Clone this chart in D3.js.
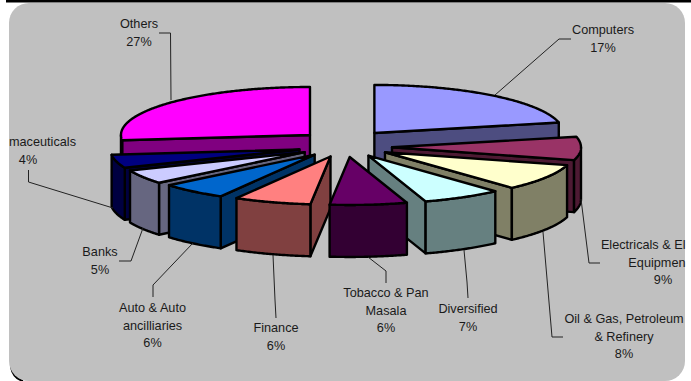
<!DOCTYPE html>
<html><head><meta charset="utf-8">
<script src="https://d3js.org/d3.v7.min.js"></script>
<style>html,body{margin:0;padding:0;background:#fff}svg{display:block}</style>
</head><body><div id="chart"></div>
<script>
const categories = ["Computers","Electricals & Equipment","Oil & Gas, Petroleum & Refinery","Diversified","Tobacco & Pan Masala","Finance","Auto & Auto ancilliaries","Banks","Pharmaceuticals","Others"];
const values = [17,9,8,7,6,6,6,5,4,27];
const topColors = ["#9999FF","#993366","#FFFFCC","#CCFFFF","#660066","#FF8080","#0066CC","#CCCCFF","#000080","#FF00FF"];
const sideColors = ["#4D4D80","#4D1A33","#808066","#668080","#330033","#804040","#003366","#666680","#000040","#800080"];
const labelLines = [["Computers","17%"],["Electricals & El","Equipmen","9%"],["Oil & Gas, Petroleum","& Refinery","8%"],["Diversified","7%"],["Tobacco & Pan","Masala","6%"],["Finance","6%"],["Auto & Auto","ancilliaries","6%"],["Banks","5%"],["maceuticals","4%"],["Others","27%"]];
const labelX = [603,663,624,468,386,276,152.5,100,28,139];
const labelY = [34,249,323,313,297,332,312,256,146,28];
const edgeTexts = new Map([["Electricals & El",685.5],["Equipmen",685.5],["maceuticals",76]]);
const leaders = [
 [[571,39],[559,39],[495,95]],[[600,263],[589,263],[581,199]],[[563,337],[552,337],[543,232]],
 [[468,298],[467,282],[464,250]],[[386,283],[386,271],[368,257]],[[276,318],[275,300],[273,255]],
 [[153,297],[153,285],[193,243]],[[119,261],[131,261],[143,228]],[[28.5,170],[28.5,182],[113,208]],[[159,33],[170.5,33],[171,100]]];
const paintOrder = [9,0,8,1,7,2,6,3,5,4];

const W=691,H=381;
const cx=345,cy=147,rx=189,ry=48,explode=47,h=52;
const svg=d3.select("#chart").append("svg").attr("width",W).attr("height",H);

svg.append("rect").attr("x",6).attr("y",0).attr("width",W-6).attr("height",2.5).attr("fill","#000");
svg.append("path").attr("d","M11,367 Q13,378 23,381").attr("fill","none").attr("stroke","#000").attr("stroke-width",2);
svg.append("rect").attr("x",9).attr("y",3).attr("width",676).attr("height",378).attr("rx",20).attr("fill","#C0C0C0");

// the picture's perspective stretches the pie's true angles
const warp=d3.scaleLinear().domain([0,64,98,129,155,201,243,258,360]).range([0,77,105,138,162,210,248,264,360]);
const rad=d=>d*Math.PI/180;
const pie=d3.pie().sort(null)(values);
const depth=d3.scaleLinear().domain([-1,0,1]).range([-10,0,18]);
const slices=pie.map((p,i)=>{
  const a0=warp(p.startAngle*180/Math.PI), a1=warp(p.endAngle*180/Math.PI), m=(a0+a1)/2;
  return {i,a0,a1,ax:cx+explode*Math.sin(rad(m)),ay:cy-depth(Math.cos(rad(m)))};
});
const rim=(s,a)=>[s.ax+rx*Math.sin(rad(a)),s.ay-ry*Math.cos(rad(a))];
const down=(p)=>[p[0],p[1]+h];
const line=d3.line();
const poly=pts=>line(pts)+"Z";

const pies=svg.append("g").attr("stroke","#000").attr("stroke-width",2.4).attr("stroke-linejoin","round");
paintOrder.forEach(idx=>{
  const s=slices[idx], g=pies.append("g");
  const apex=[s.ax,s.ay];
  const wall=a=>g.append("path").attr("d",poly([apex,rim(s,a),down(rim(s,a)),down(apex)])).attr("fill",sideColors[idx]);
  if(Math.sin(rad(s.a0))<-1e-6) wall(s.a0);
  if(Math.sin(rad(s.a1))>1e-6) wall(s.a1);
  const f0=Math.max(s.a0,90), f1=Math.min(s.a1,270);
  if(f1>f0){
    const arc=d3.range(f0,f1,0.5).concat([f1]).map(a=>rim(s,a));
    g.append("path").attr("d",poly(arc.concat(arc.slice().reverse().map(down)))).attr("fill",sideColors[idx]);
  }
  const tp=d3.range(s.a0,s.a1,0.5).concat([s.a1]).map(a=>rim(s,a));
  g.append("path").attr("d",poly([apex].concat(tp))).attr("fill",topColors[idx]);
});

const lab=svg.append("g");
lab.append("g").selectAll("path").data(leaders).join("path").attr("d",d=>line(d)).attr("fill","none").attr("stroke","#222").attr("stroke-width",1);
const tg=lab.append("g").attr("font-family","'Liberation Sans',Arial,sans-serif").attr("font-size",12.7).attr("fill","#1a1a1a");
labelLines.forEach((ls,i)=>{
  ls.forEach((t,j)=>tg.append("text")
    .attr("x",edgeTexts.has(t)?edgeTexts.get(t):labelX[i])
    .attr("text-anchor",edgeTexts.has(t)?"end":"middle")
    .attr("y",labelY[i]+j*17.6).text(t));
});
</script></body></html>
